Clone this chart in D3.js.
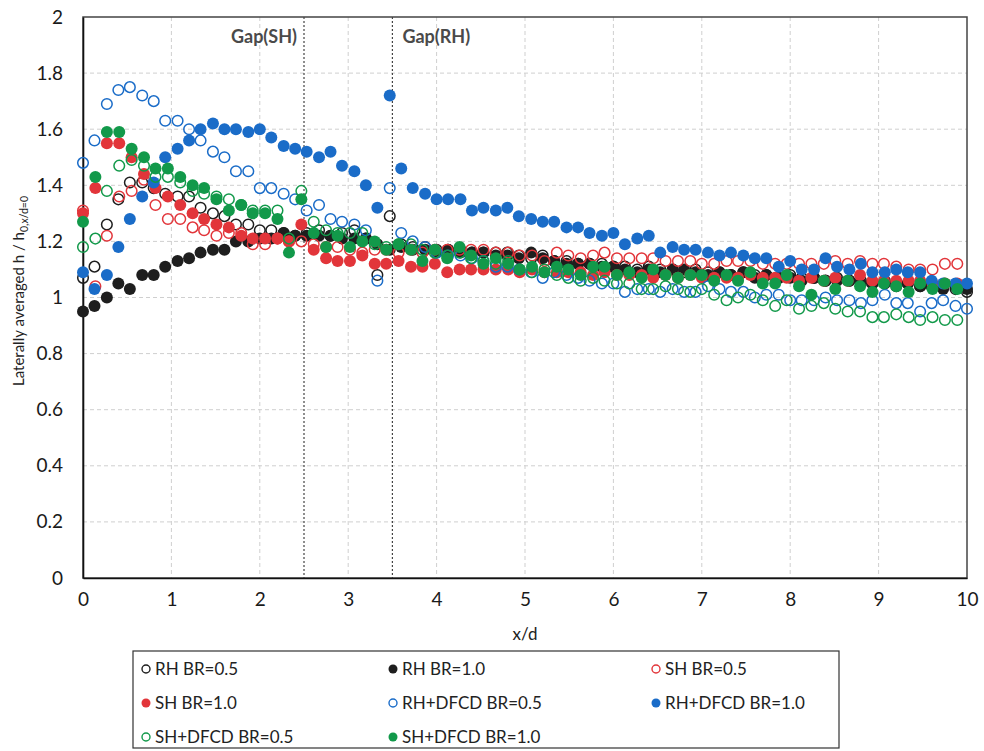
<!DOCTYPE html>
<html>
<head>
<meta charset="utf-8">
<script src="https://cdn.jsdelivr.net/npm/d3@7"></script>
<style>
  body { margin: 0; background: #fff; }
  svg text { font-family: Lato, "Open Sans", sans-serif; fill: #222; }
</style>
</head>
<body>
<div id="chart"></div>
<script>
// x/d positions (RH cases and SH cases are sampled on slightly different grids)
var xRH = [0, 0.13, 0.27, 0.40, 0.53, 0.67, 0.80, 0.93, 1.07, 1.20,
  1.33, 1.47, 1.60, 1.73, 1.87, 2.00, 2.13, 2.27, 2.40, 2.53,
  2.67, 2.80, 2.93, 3.07, 3.20, 3.33, 3.47, 3.60, 3.73, 3.87,
  4.00, 4.13, 4.27, 4.40, 4.53, 4.67, 4.80, 4.93, 5.07, 5.20,
  5.33, 5.47, 5.60, 5.73, 5.87, 6.00, 6.13, 6.27, 6.40, 6.53,
  6.67, 6.80, 6.93, 7.07, 7.20, 7.33, 7.47, 7.60, 7.73, 7.87,
  8.00, 8.13, 8.27, 8.40, 8.53, 8.67, 8.80, 8.93, 9.07, 9.20,
  9.33, 9.47, 9.60, 9.73, 9.87, 10.00];

var xSH = [0, 0.14, 0.27, 0.41, 0.55, 0.69, 0.82, 0.96, 1.10, 1.24,
  1.37, 1.51, 1.65, 1.79, 1.92, 2.06, 2.20, 2.33, 2.47, 2.61,
  2.75, 2.88, 3.02, 3.16, 3.30, 3.43, 3.57, 3.71, 3.84, 3.98,
  4.12, 4.26, 4.39, 4.53, 4.67, 4.81, 4.94, 5.08, 5.22, 5.36,
  5.49, 5.63, 5.77, 5.90, 6.04, 6.18, 6.32, 6.45, 6.59, 6.73,
  6.87, 7.00, 7.14, 7.28, 7.41, 7.55, 7.69, 7.83, 7.96, 8.10,
  8.24, 8.38, 8.51, 8.65, 8.79, 8.93, 9.06, 9.20, 9.34, 9.47,
  9.61, 9.75, 9.89];

var rhBR05 = [1.07, 1.11, 1.26, 1.35, 1.41, 1.41, 1.39, 1.37, 1.36, 1.36,
  1.32, 1.30, 1.29, 1.26, 1.26, 1.24, 1.24, 1.23, 1.22, 1.23,
  1.24, 1.22, 1.23, 1.24, 1.21, 1.08, 1.29, 1.19, 1.18, 1.18,
  1.17, 1.17, 1.17, 1.16, 1.16, 1.16, 1.16, 1.15, 1.14, 1.15,
  1.13, 1.13, 1.12, 1.12, 1.12, 1.11, 1.11, 1.10, 1.11, 1.10,
  1.10, 1.09, 1.10, 1.09, 1.09, 1.08, 1.09, 1.08, 1.08, 1.07,
  1.08, 1.07, 1.07, 1.06, 1.07, 1.06, 1.06, 1.05, 1.06, 1.05,
  1.05, 1.04, 1.05, 1.04, 1.03, 1.02];

var rhBR10 = [0.95, 0.97, 1.00, 1.05, 1.03, 1.08, 1.08, 1.11, 1.13, 1.14,
  1.16, 1.17, 1.17, 1.20, 1.20, 1.21, 1.21, 1.23, 1.22, 1.22,
  1.22, 1.22, 1.21, 1.21, 1.21, 1.19, 1.17, 1.18, 1.17, 1.17,
  1.16, 1.17, 1.16, 1.16, 1.16, 1.15, 1.15, 1.14, 1.16, 1.14,
  1.13, 1.12, 1.12, 1.12, 1.11, 1.11, 1.10, 1.09, 1.10, 1.09,
  1.10, 1.10, 1.09, 1.08, 1.09, 1.08, 1.09, 1.07, 1.08, 1.07,
  1.07, 1.06, 1.07, 1.06, 1.06, 1.06, 1.05, 1.05, 1.05, 1.04,
  1.05, 1.04, 1.04, 1.03, 1.04, 1.03];

var shBR05 = [1.31, 1.04, 1.22, 1.36, 1.38, 1.42, 1.33, 1.28, 1.28, 1.25,
  1.24, 1.22, 1.23, 1.23, 1.19, 1.19, 1.21, 1.20, 1.20, 1.19,
  1.18, 1.18, 1.17, 1.16, 1.17, 1.17, 1.16, 1.17, 1.16, 1.17,
  1.17, 1.17, 1.17, 1.17, 1.16, 1.16, 1.15, 1.15, 1.13, 1.16,
  1.15, 1.14, 1.15, 1.16, 1.14, 1.14, 1.14, 1.14, 1.13, 1.13,
  1.13, 1.12, 1.12, 1.13, 1.13, 1.13, 1.12, 1.12, 1.12, 1.12,
  1.12, 1.12, 1.13, 1.12, 1.13, 1.12, 1.12, 1.11, 1.10, 1.10,
  1.10, 1.12, 1.12];

var shBR10 = [1.30, 1.39, 1.55, 1.55, 1.50, 1.44, 1.39, 1.36, 1.33, 1.30,
  1.28, 1.26, 1.25, 1.22, 1.21, 1.21, 1.21, 1.20, 1.26, 1.17,
  1.14, 1.13, 1.13, 1.15, 1.12, 1.12, 1.13, 1.11, 1.11, 1.12,
  1.09, 1.10, 1.10, 1.10, 1.10, 1.10, 1.09, 1.10, 1.09, 1.09,
  1.09, 1.09, 1.08, 1.09, 1.08, 1.08, 1.08, 1.07, 1.08, 1.07,
  1.08, 1.07, 1.07, 1.07, 1.07, 1.08, 1.07, 1.07, 1.07, 1.06,
  1.07, 1.06, 1.07, 1.06, 1.08, 1.06, 1.06, 1.06, 1.06, 1.06,
  1.05, 1.05, 1.05];

var rhdBR05 = [1.48, 1.56, 1.69, 1.74, 1.75, 1.72, 1.70, 1.63, 1.63, 1.60,
  1.56, 1.52, 1.50, 1.45, 1.45, 1.39, 1.39, 1.37, 1.35, 1.31,
  1.33, 1.28, 1.27, 1.26, 1.24, 1.06, 1.39, 1.23, 1.20, 1.18,
  1.16, 1.15, 1.15, 1.14, 1.13, 1.11, 1.11, 1.10, 1.09, 1.07,
  1.09, 1.08, 1.07, 1.06, 1.05, 1.05, 1.02, 1.03, 1.03, 1.02,
  1.03, 1.02, 1.02, 1.04, 1.03, 1.02, 1.02, 1.00, 1.01, 1.01,
  0.99, 0.99, 0.99, 1.00, 0.99, 0.99, 0.98, 0.99, 1.01, 0.98,
  0.98, 0.95, 0.98, 0.99, 0.97, 0.96];

var rhdBR10 = [1.09, 1.03, 1.08, 1.18, 1.28, 1.36, 1.41, 1.50, 1.53, 1.56,
  1.60, 1.62, 1.60, 1.60, 1.59, 1.60, 1.57, 1.54, 1.53, 1.52,
  1.50, 1.52, 1.47, 1.45, 1.40, 1.32, 1.72, 1.46, 1.39, 1.37,
  1.35, 1.35, 1.35, 1.31, 1.32, 1.31, 1.32, 1.29, 1.28, 1.27,
  1.27, 1.25, 1.25, 1.23, 1.22, 1.23, 1.19, 1.21, 1.22, 1.16,
  1.18, 1.17, 1.17, 1.16, 1.15, 1.16, 1.15, 1.14, 1.14, 1.11,
  1.13, 1.10, 1.10, 1.14, 1.11, 1.10, 1.12, 1.09, 1.09, 1.10,
  1.09, 1.09, 1.06, 1.05, 1.05, 1.05];

var shdBR05 = [1.18, 1.21, 1.38, 1.47, 1.49, 1.47, 1.43, 1.43, 1.41, 1.38,
  1.37, 1.36, 1.35, 1.33, 1.31, 1.31, 1.31, 1.21, 1.38, 1.27,
  1.24, 1.23, 1.23, 1.23, 1.19, 1.18, 1.19, 1.19, 1.17, 1.16,
  1.15, 1.16, 1.14, 1.13, 1.12, 1.13, 1.10, 1.09, 1.10, 1.08,
  1.07, 1.06, 1.07, 1.06, 1.05, 1.05, 1.03, 1.03, 1.04, 1.03,
  1.02, 1.03, 1.01, 0.99, 1.00, 1.01, 0.99, 0.97, 0.99, 0.96,
  0.97, 0.98, 0.96, 0.95, 0.95, 0.93, 0.93, 0.94, 0.93, 0.92,
  0.93, 0.92, 0.92];

var shdBR10 = [1.27, 1.43, 1.59, 1.59, 1.53, 1.50, 1.46, 1.46, 1.43, 1.40,
  1.39, 1.35, 1.31, 1.33, 1.30, 1.30, 1.28, 1.16, 1.35, 1.23,
  1.18, 1.22, 1.18, 1.20, 1.20, 1.17, 1.19, 1.17, 1.13, 1.17,
  1.14, 1.18, 1.15, 1.12, 1.14, 1.12, 1.10, 1.11, 1.09, 1.11,
  1.10, 1.08, 1.11, 1.11, 1.08, 1.09, 1.07, 1.10, 1.08, 1.07,
  1.08, 1.08, 1.06, 1.08, 1.06, 1.09, 1.05, 1.05, 1.08, 1.04,
  1.01, 1.06, 1.03, 1.06, 1.04, 1.02, 1.05, 1.04, 1.02, 1.05,
  1.03, 1.05, 1.03];

var seriesNames = ["RH BR=0.5", "RH BR=1.0", "SH BR=0.5", "SH BR=1.0",
  "RH+DFCD BR=0.5", "RH+DFCD BR=1.0", "SH+DFCD BR=0.5", "SH+DFCD BR=1.0"];
var gapPositions = [2.5, 3.5];
var gapLabels = ["Gap(SH)", "Gap(RH)"];
var xTicks = [0, 1, 2, 3, 4, 5, 6, 7, 8, 9, 10];
var yTicks = [0, 0.2, 0.4, 0.6, 0.8, 1, 1.2, 1.4, 1.6, 1.8, 2];

var svgWidth = 984;
var svgHeight = 751;
var margin = { top: 17, right: 17, bottom: 173, left: 83 };
var width = svgWidth - margin.left - margin.right;
var height = svgHeight - margin.top - margin.bottom;

var colBlack = "#1e1e1e", colRed = "#e2353a", colBlue = "#1a6cc8", colGreen = "#12994a";

var series = [
  { name: seriesNames[0], xs: xRH, ys: rhBR05, color: colBlack, filled: false },
  { name: seriesNames[1], xs: xRH, ys: rhBR10, color: colBlack, filled: true },
  { name: seriesNames[2], xs: xSH, ys: shBR05, color: colRed, filled: false },
  { name: seriesNames[3], xs: xSH, ys: shBR10, color: colRed, filled: true },
  { name: seriesNames[4], xs: xRH, ys: rhdBR05, color: colBlue, filled: false },
  { name: seriesNames[5], xs: xRH, ys: rhdBR10, color: colBlue, filled: true },
  { name: seriesNames[6], xs: xSH, ys: shdBR05, color: colGreen, filled: false },
  { name: seriesNames[7], xs: xSH, ys: shdBR10, color: colGreen, filled: true }
];

var svg = d3.select("#chart")
  .append("svg")
  .attr("width", svgWidth)
  .attr("height", svgHeight);

var chartGroup = svg.append("g")
  .attr("transform", `translate(${margin.left}, ${margin.top})`);

var xScale = d3.scaleLinear().domain([0, 10]).range([0, width]);
var yScale = d3.scaleLinear().domain([0, 2]).range([height, 0]);

// gridlines
chartGroup.append("g")
  .selectAll("line")
  .data(yTicks.slice(1, -1))
  .enter()
  .append("line")
  .attr("x1", 0).attr("x2", width)
  .attr("y1", d => yScale(d)).attr("y2", d => yScale(d))
  .attr("stroke", "#cfcfcf")
  .attr("stroke-dasharray", "4,3");

chartGroup.append("g")
  .selectAll("line")
  .data(xTicks.slice(1, -1))
  .enter()
  .append("line")
  .attr("x1", d => xScale(d)).attr("x2", d => xScale(d))
  .attr("y1", 0).attr("y2", height)
  .attr("stroke", "#cfcfcf")
  .attr("stroke-dasharray", "4,3");

// gap markers
chartGroup.append("g")
  .selectAll("line")
  .data(gapPositions)
  .enter()
  .append("line")
  .attr("x1", d => xScale(d)).attr("x2", d => xScale(d))
  .attr("y1", 0).attr("y2", height)
  .attr("stroke", "#444")
  .attr("stroke-width", 1.2)
  .attr("stroke-dasharray", "2,2");

chartGroup.append("text")
  .attr("x", xScale(gapPositions[0]) - 7)
  .attr("y", 26)
  .attr("text-anchor", "end")
  .style("font-size", "18px")
  .style("font-weight", "bold")
  .style("fill", "#4a4a4a")
  .text(gapLabels[0]);

chartGroup.append("text")
  .attr("x", xScale(gapPositions[1]) + 10)
  .attr("y", 26)
  .attr("text-anchor", "start")
  .style("font-size", "18px")
  .style("font-weight", "bold")
  .style("fill", "#4a4a4a")
  .text(gapLabels[1]);

// frame
chartGroup.append("rect")
  .attr("x", 0).attr("y", 0)
  .attr("width", width).attr("height", height)
  .attr("fill", "none")
  .attr("stroke", "#444")
  .attr("stroke-width", 1.5);

// axes
var xAxis = d3.axisBottom(xScale).tickValues(xTicks).tickSize(0).tickPadding(15);
var yAxis = d3.axisLeft(yScale).tickValues(yTicks).tickSize(0).tickPadding(20)
  .tickFormat(d => String(+d.toFixed(1)));

var gx = chartGroup.append("g")
  .attr("transform", `translate(0, ${height})`)
  .call(xAxis);
var gy = chartGroup.append("g")
  .call(yAxis);

[gx, gy].forEach(function(g) {
  g.select(".domain").attr("stroke", "#111").attr("stroke-width", 1.6);
  g.selectAll("text").style("font-size", "19px").style("fill", "#1a1a1a");
});

// points
series.forEach(function(s) {
  var pts = s.ys.map(function(v, i) { return { x: s.xs[i], y: v }; });
  chartGroup.append("g")
    .selectAll("circle")
    .data(pts)
    .enter()
    .append("circle")
    .attr("cx", d => xScale(d.x))
    .attr("cy", d => yScale(d.y))
    .attr("r", s.filled ? 6 : 5.3)
    .attr("fill", s.filled ? s.color : "none")
    .attr("stroke", s.color)
    .attr("stroke-width", s.filled ? 0 : 1.5);
});

// axis titles
chartGroup.append("text")
  .attr("x", width / 2)
  .attr("y", height + 62)
  .attr("text-anchor", "middle")
  .style("font-size", "17px")
  .text("x/d");

var yTitle = svg.append("text")
  .attr("transform", "translate(24, 291) rotate(-90)")
  .attr("text-anchor", "middle")
  .style("font-size", "15px");
yTitle.append("tspan").text("Laterally averaged h / h");
yTitle.append("tspan")
  .attr("dy", 4)
  .style("font-size", "10.5px")
  .text("0,x/d=0");

// legend
var legend = svg.append("g").attr("transform", "translate(133, 651)");
legend.append("rect")
  .attr("width", 706).attr("height", 97)
  .attr("fill", "#fff")
  .attr("stroke", "#333")
  .attr("stroke-width", 1.2);

var colX = [13, 260, 523];
var rowY = [18, 52, 86];

var items = legend.selectAll("g.item")
  .data(series)
  .enter()
  .append("g")
  .attr("class", "item")
  .attr("transform", (d, i) => `translate(${colX[i % 3]}, ${rowY[Math.floor(i / 3)]})`);

items.append("circle")
  .attr("r", d => d.filled ? 4.5 : 4)
  .attr("fill", d => d.filled ? d.color : "none")
  .attr("stroke", d => d.color)
  .attr("stroke-width", d => d.filled ? 0 : 1.4);

items.append("text")
  .attr("x", 9)
  .attr("dy", "0.36em")
  .style("font-size", "17px")
  .text(d => d.name);
</script>
</body>
</html>
